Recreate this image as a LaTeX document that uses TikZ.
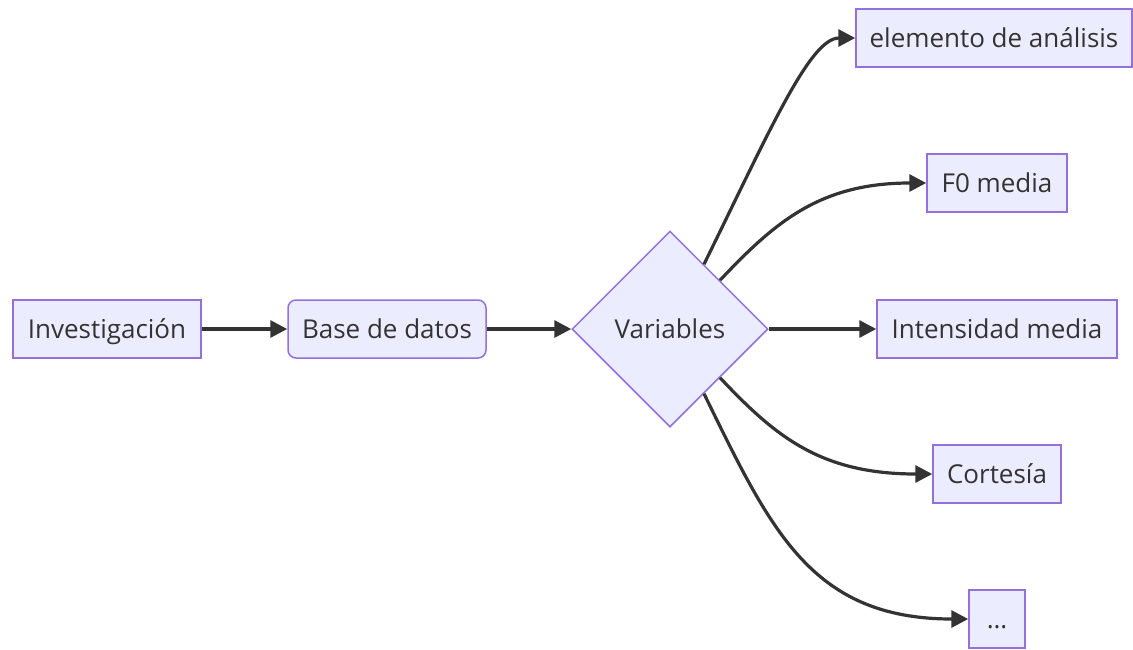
\documentclass[tikz,border=0pt]{standalone}
\usepackage{fontspec}
\setmainfont{Open Sans}
\usetikzlibrary{arrows.meta,shapes.geometric}
\definecolor{nodefill}{HTML}{ECECFF}
\definecolor{nodeline}{HTML}{9370DB}
\definecolor{ink}{HTML}{333333}
\tikzset{
  box/.style={draw=nodeline, fill=nodefill, line width=1.5pt, text=ink,
    font=\fontsize{26}{30}\selectfont, minimum height=58pt, inner xsep=12pt, inner ysep=0pt,
    text height=20pt, text depth=1pt},
  roundbox/.style={box, rounded corners=8pt},
  decision/.style={draw=nodeline, fill=nodefill, line width=1.5pt, text=ink,
    font=\fontsize{26}{30}\selectfont, diamond, minimum width=196pt, minimum height=196pt, inner sep=0pt},
  link/.style={draw=ink, line width=3.2pt, -{Triangle[length=17pt,width=17pt]}},
}
\begin{document}
\begin{tikzpicture}[x=1pt,y=-1pt]
  \useasboundingbox (0,0) rectangle (1133,649);
  % main chain
  \node[box, minimum width=188pt] (inv) at (107,329) {Investigación};
  \node[roundbox, minimum width=198pt] (base) at (387,329) {Base de datos};
  \node[decision] (var) at (670,329) {Variables};
  % variable targets
  \node[box, minimum width=276pt] (elem) at (994,38) {elemento de análisis};
  \node[box, minimum width=140pt] (f0) at (997,183) {F0 media};
  \node[box, minimum width=240pt] (int) at (997,329) {Intensidad media};
  \node[box, minimum width=128pt] (cort) at (997,474) {Cortesía};
  \node[box, minimum width=56pt] (etc) at (997,619) {\ldots};
  % connectors
  \draw[link] (inv.east) -- (base.west);
  \draw[link] (base.east) -- (var.west);
  \draw[link] (var.north) ++(34,34) coordinate (v1)
    .. controls (770,130) and (810,38) .. (elem.west);
  \draw[link] (var.north) ++(50,50) coordinate (v2)
    .. controls (775,222) and (820,183) .. (f0.west);
  \draw[link] (var.east) -- (int.west);
  \draw[link] (var.south) ++(50,-50) coordinate (v4)
    .. controls (775,436) and (820,474) .. (cort.west);
  \draw[link] (var.south) ++(34,-34) coordinate (v5)
    .. controls (770,528) and (810,619) .. (etc.west);
\end{tikzpicture}
\end{document}
